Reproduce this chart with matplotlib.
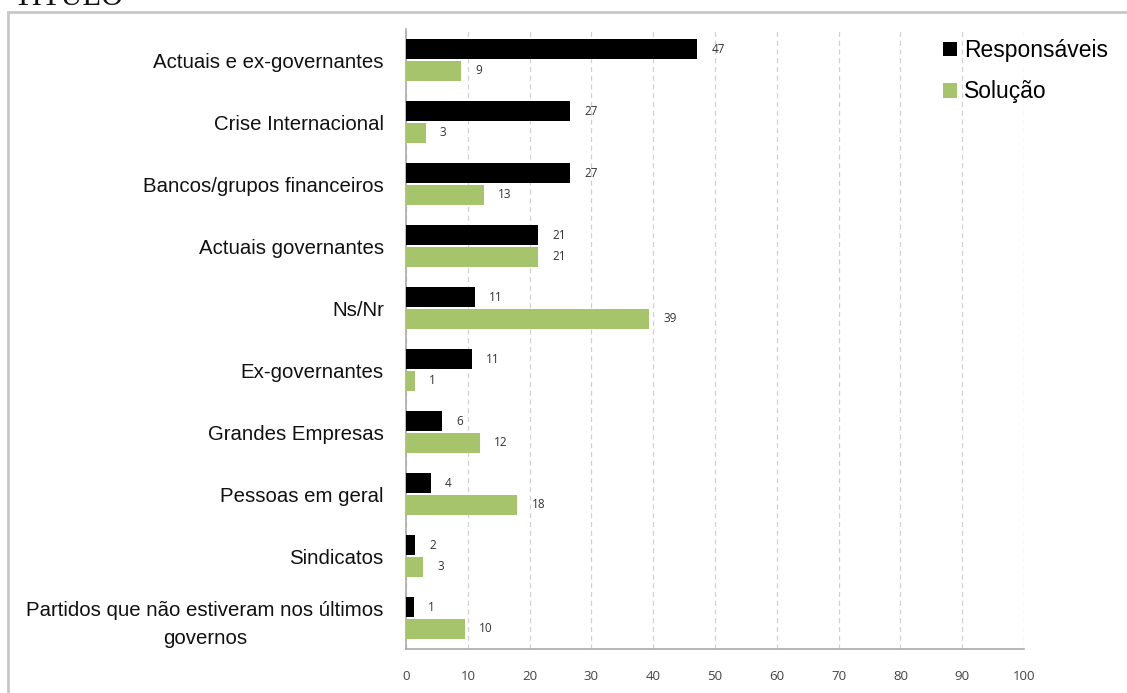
import matplotlib
matplotlib.use("Agg")
import matplotlib.pyplot as plt
from matplotlib.patches import Rectangle, Patch
import numpy as np

categories = [
    "Actuais e ex-governantes",
    "Crise Internacional",
    "Bancos/grupos financeiros",
    "Actuais governantes",
    "Ns/Nr",
    "Ex-governantes",
    "Grandes Empresas",
    "Pessoas em geral",
    "Sindicatos",
    "Partidos que não estiveram nos últimos\ngovernos",
]
responsaveis = [47.1, 26.6, 26.6, 21.4, 11.1, 10.6, 5.8, 4.0, 1.5, 1.3]
solucao = [8.9, 3.2, 12.6, 21.4, 39.3, 1.4, 11.9, 18.0, 2.8, 9.5]
series_names = ["Responsáveis", "Solução"]
xticks = [0, 10, 20, 30, 40, 50, 60, 70, 80, 90, 100]

W, H = 1127, 693
fig = plt.figure(figsize=(W / 100, H / 100), dpi=100)
fig.patch.set_facecolor("white")

# outer frame
fig.patches.append(Rectangle((8 / W, -0.05), 1.2, 1 - 12 / H + 0.05,
                             transform=fig.transFigure, fill=False,
                             edgecolor="#c8c8c8", linewidth=2.0, zorder=0))

fig.text(13 / W, 1 - 5 / H, "TITULO", family="Liberation Serif", fontsize=22,
         va="baseline", ha="left", color="#111111")

ax = fig.add_axes([406 / W, 1 - 649 / H, (1024 - 406) / W, (649 - 29) / H])

y = np.arange(len(categories))
h = 0.32
off = 0.175
black = "#000000"
green = "#a6c46c"

ax.barh(y - off, responsaveis, height=h, color=black, zorder=3)
ax.barh(y + off, solucao, height=h, color=green, zorder=3)

for yi, v in zip(y, responsaveis):
    ax.text(v + 2.3, yi - off, f"{round(v):d}", va="center", ha="left",
            fontsize=8.5, color="#333333", family="Open Sans")
for yi, v in zip(y, solucao):
    ax.text(v + 2.3, yi + off, f"{round(v):d}", va="center", ha="left",
            fontsize=8.5, color="#333333", family="Open Sans")

ax.set_xlim(0, 100)
ax.set_ylim(len(categories) - 0.5, -0.5)
ax.set_xticks(xticks)
ax.set_xticklabels([str(t) for t in xticks], fontsize=9.5, color="#444444",
                   family="Open Sans")
ax.tick_params(axis="x", length=0, pad=15)
ax.set_yticks(y)
ax.set_yticklabels(categories, fontsize=14.7, family="Liberation Sans",
                   color="#111111", multialignment="center", linespacing=1.6)
ax.tick_params(axis="y", length=0, pad=16)

ax.xaxis.grid(True, linestyle=(0, (4, 3)), color="#d0d0d0", linewidth=0.9)
ax.set_axisbelow(True)
for s in ["top", "right"]:
    ax.spines[s].set_visible(False)
for s in ["left", "bottom"]:
    ax.spines[s].set_color("#aaaaaa")
    ax.spines[s].set_linewidth(1.2)

handles = [Patch(facecolor=black, label=series_names[0]),
           Patch(facecolor=green, label=series_names[1])]
fig.legend(handles=handles, loc="upper left", bbox_to_anchor=(943 / W, 1 - 39 / H),
           frameon=False, prop={"family": "Liberation Sans", "size": 16.5},
           handlelength=0.6, handleheight=0.6, handletextpad=0.3,
           labelspacing=0.8, borderaxespad=0, borderpad=0)

fig.savefig("out.png", dpi=100)
